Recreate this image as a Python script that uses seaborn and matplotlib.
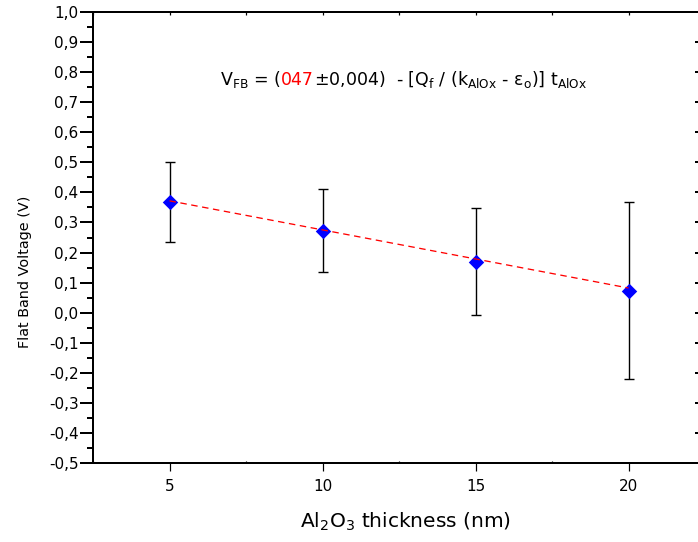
import numpy as np
import pandas as pd
import matplotlib
matplotlib.use("Agg")
import matplotlib.pyplot as plt
import seaborn as sns
from matplotlib.ticker import MultipleLocator, FuncFormatter, NullFormatter

# ---- data ----
thickness = [5, 10, 15, 20]
vfb = [0.367, 0.273, 0.170, 0.073]
vfb_err = [0.133, 0.138, 0.178, 0.295]
fit_x = [5, 20]
fit_y = [0.372, 0.082]

df = pd.DataFrame({"t": thickness, "v": vfb, "e": vfb_err})
fit_df = pd.DataFrame({"t": fit_x, "v": fit_y})

sns.set_style("ticks")
plt.rcParams["font.family"] = ["DejaVu Sans"]
plt.rcParams["mathtext.fontset"] = "dejavusans"
plt.rcParams["text.color"] = "black"
plt.rcParams["axes.labelcolor"] = "black"
plt.rcParams["xtick.color"] = "black"
plt.rcParams["ytick.color"] = "black"

W, H = 698, 542
PT = 72 / 100  # points per pixel
fig = plt.figure(figsize=(W / 100, H / 100), dpi=100)
left, right, top, bottom = 93, 705, 12, 463
ax = fig.add_axes([left / W, (H - bottom) / H, (right - left) / W, (bottom - top) / H])

ax.errorbar(df["t"], df["v"], yerr=df["e"], fmt="none", ecolor="black",
            elinewidth=1.0, capsize=4.6 * PT, capthick=1.0, zorder=2)
sns.scatterplot(data=df, x="t", y="v", marker="D", s=62, color="#0000ff",
                edgecolor="#0000ff", linewidth=0, ax=ax, zorder=3, legend=False)
sns.lineplot(data=fit_df, x="t", y="v", color="red", linewidth=1.3 * PT,
             ax=ax, zorder=4, legend=False)
ax.lines[-1].set_linestyle((0, (5, 3.5)))

ax.set_xlim(2.5, 22.5)
ax.set_ylim(-0.5, 1.0)
ax.xaxis.set_major_locator(MultipleLocator(5))
ax.xaxis.set_minor_locator(MultipleLocator(2.5))
ax.yaxis.set_major_locator(MultipleLocator(0.1))
ax.yaxis.set_minor_locator(MultipleLocator(0.05))
ax.yaxis.set_major_formatter(FuncFormatter(lambda v, p: f"{v:.1f}".replace(".", ",").replace("-0,0", "0,0")))
ax.xaxis.set_major_formatter(FuncFormatter(lambda v, p: f"{v:g}"))

for name, s in ax.spines.items():
    s.set_visible(True)
    s.set_linewidth(2.0 * PT)
    s.set_color("black")

ax.tick_params(axis="y", which="major", direction="out", length=13 * PT, width=2 * PT,
               labelsize=11, pad=1, colors="black")
ax.tick_params(axis="y", which="minor", direction="out", length=6.5 * PT, width=2 * PT)
ax.tick_params(axis="x", which="major", direction="out", length=8 * PT, width=1.2 * PT,
               labelsize=11, pad=6, colors="black")
ax.tick_params(axis="x", which="minor", direction="in", length=2.5 * PT, width=1.2 * PT)

# mirrored axes (top / right) with inward ticks
sec_top = ax.secondary_xaxis("top")
sec_top.xaxis.set_major_locator(MultipleLocator(2.5))
sec_top.xaxis.set_major_formatter(NullFormatter())
sec_top.tick_params(direction="in", length=3 * PT, width=1.2 * PT)
sec_top.spines["top"].set_linewidth(2.0 * PT)

sec_right = ax.secondary_yaxis("right")
sec_right.yaxis.set_major_locator(MultipleLocator(0.1))
sec_right.yaxis.set_major_formatter(NullFormatter())
sec_right.tick_params(direction="in", length=10 * PT, width=2 * PT)

ax.set_xlabel(r"$\mathregular{Al_2O_3}$ thickness (nm)", fontsize=14.5, color="black")
ax.set_ylabel("Flat Band Voltage (V)", fontsize=10.4, color="black")
ax.xaxis.set_label_coords((405 - left) / (right - left), -(528 - bottom) / (bottom - top))
ax.xaxis.label.set_va("baseline")
ax.yaxis.set_label_coords(-(left - 25) / (right - left), (bottom - 272) / (bottom - top))
ax.yaxis.label.set_va("center")

# ---- formula annotation, built piecewise ----
fig.canvas.draw()
renderer = fig.canvas.get_renderer()
pieces = [
    (r"$\mathregular{V_{FB}}$ = (", "black"),
    ("047", "red"),
    (r"±0,004)  - [$\mathregular{Q_f}$ / ($\mathregular{k_{AlOx}}$ - $\mathregular{ε_o}$)] $\mathregular{t_{AlOx}}$", "black"),
]
y0 = (H - 85) / H
objs = []
x0 = 0.0
for txt, col in pieces:
    tobj = fig.text(x0 / W, y0, txt, color=col, fontsize=12.5, ha="left", va="baseline")
    bb = tobj.get_window_extent(renderer=renderer)
    objs.append((tobj, x0))
    x0 = x0 + bb.width
shift = 587 - x0
for tobj, xs in objs:
    tobj.set_x((xs + shift) / W)

fig.savefig("out.png", dpi=100)
